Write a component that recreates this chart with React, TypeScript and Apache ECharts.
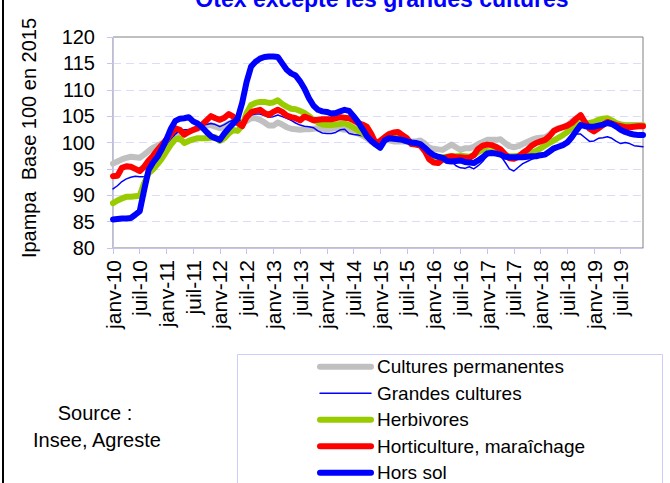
import React, { useEffect, useRef } from "react";
import * as echarts from "echarts";

const FONT = "'Liberation Sans', Arial, sans-serif";

const MONTHS = ["janv", "févr", "mars", "avr", "mai", "juin", "juil", "août", "sept", "oct", "nov", "déc"];
const YEARS = ["10", "11", "12", "13", "14", "15", "16", "17", "18", "19"];
const CATEGORIES: string[] = YEARS.flatMap((y) => MONTHS.map((m) => `${m}-${y}`));

const TITLE = "Otex excepté les grandes cultures";
const Y_TITLE = "Ipampa  Base 100 en 2015";
const SOURCE = ["Source :", "Insee, Agreste"];

const NAMES = [
  "Cultures permanentes",
  "Grandes cultures",
  "Herbivores",
  "Horticulture, maraîchage",
  "Hors sol",
];
const COLORS = ["#c0c0c0", "#0000ff", "#99cc00", "#ff0000", "#0000ff"];
const WIDTHS = [6, 1.5, 6, 6, 6];

const CULTURES_PERMANENTES = [
  96.0, 96.4, 96.8, 97.1, 97.3, 97.2, 97.1, 97.7, 98.4, 99.0, 99.4, 99.8,
  100.0, 100.7, 101.5, 102.0, 102.0, 102.1, 102.4, 102.6, 102.9, 103.2, 103.3, 103.0,
  102.7, 103.1, 103.6, 103.9, 103.6, 103.6, 104.1, 104.6, 104.6, 104.3, 103.8, 103.2,
  103.2, 103.8, 103.4, 102.9, 102.6, 102.5, 102.4, 102.5, 102.5, 102.6, 102.7, 102.6,
  102.5, 102.6, 102.7, 102.6, 102.4, 102.4, 102.1, 101.7, 101.3, 100.8, 100.2, 99.6,
  99.9, 100.5, 100.4, 100.2, 100.2, 100.2, 100.2, 100.2, 100.2, 100.4, 99.8, 99.0,
  98.8, 98.7, 98.6, 99.1, 99.6, 99.1, 98.6, 98.9, 98.9, 99.2, 99.7, 100.1,
  100.5, 100.5, 100.5, 100.6, 99.9, 99.3, 99.1, 99.3, 99.7, 100.1, 100.5, 100.8,
  100.9, 101.0, 101.5, 102.3, 102.7, 102.9, 103.2, 104.0, 104.6, 105.0, 103.5, 103.3,
  103.5, 103.9, 104.2, 104.0, 103.7, 103.5, 103.4, 103.3, 103.3, 103.3, 103.3, 103.3,
];

const GRANDES_CULTURES = [
  91.2, 91.8, 92.6, 93.1, 93.4, 93.6, 93.5, 93.5, 94.5, 95.5, 96.6, 97.9,
  99.2, 100.5, 101.6, 102.3, 102.4, 102.4, 102.7, 103.1, 103.4, 103.4, 103.6, 103.4,
  103.0, 103.4, 103.9, 104.3, 104.2, 104.2, 104.7, 105.2, 105.4, 105.4, 105.1, 104.8,
  104.9, 105.2, 104.9, 104.6, 104.2, 103.7, 103.3, 103.1, 103.0, 102.8, 102.2, 101.8,
  101.7, 101.7, 101.9, 102.4, 102.5, 101.7, 101.5, 101.4, 101.3, 100.8, 100.0, 99.3,
  99.8, 100.5, 100.7, 100.7, 100.6, 100.5, 100.4, 100.2, 99.9, 99.6, 99.0, 98.0,
  97.3, 96.9, 96.7, 96.5, 96.4, 95.6, 95.2, 95.1, 95.4, 95.0, 95.6, 96.4,
  97.5, 97.7, 97.7, 97.5, 96.3, 95.0, 94.6, 95.3, 96.0, 96.4, 96.8, 97.1,
  97.5, 97.8, 98.0, 98.7, 99.3, 99.9, 100.5, 101.1, 101.6, 101.6, 100.9, 100.2,
  100.3, 100.8, 100.9, 101.1, 100.8, 100.2, 99.8, 100.0, 99.8, 99.4, 99.3, 99.2,
];

const HERBIVORES = [
  88.5, 89.0, 89.4, 89.7, 89.7, 89.8, 89.9, 92.3, 94.2, 94.9, 95.9, 97.0,
  98.3, 99.6, 100.6, 100.8, 99.9, 100.3, 100.6, 100.8, 100.8, 100.8, 100.9, 101.0,
  100.3, 100.8, 101.7, 102.4, 102.2, 103.2, 105.6, 107.1, 107.5, 107.7, 107.7, 107.5,
  107.6, 108.0, 107.3, 106.8, 106.4, 106.3, 106.0, 105.6, 105.0, 104.3, 103.8, 103.4,
  103.3, 103.3, 103.4, 103.5, 103.6, 103.3, 102.8, 102.3, 101.8, 101.2, 100.6, 99.9,
  100.0, 100.6, 100.8, 100.9, 100.9, 100.6, 100.3, 99.9, 99.7, 99.4, 98.7, 97.9,
  97.4, 97.2, 97.2, 97.3, 97.4, 97.4, 97.5, 97.4, 97.3, 97.6, 98.2, 98.6,
  98.4, 98.3, 98.2, 97.9, 97.6, 97.4, 97.4, 97.5, 97.7, 97.9, 98.1, 98.4,
  98.9, 99.4, 99.9, 100.4, 100.9, 101.4, 102.0, 102.7, 103.4, 103.7, 103.6, 103.7,
  103.9, 104.3, 104.5, 104.6, 104.2, 103.7, 103.4, 103.2, 103.2, 103.2, 103.2, 103.2,
];

const HORTICULTURE = [
  93.6, 93.7, 95.2, 95.5, 95.4, 95.0, 94.6, 95.4, 96.6, 97.5, 98.6, 99.6,
  100.6, 101.6, 102.7, 102.4, 101.5, 102.0, 102.4, 102.7, 103.4, 104.2, 105.0, 104.6,
  104.3, 104.7, 105.4, 104.9, 103.7, 103.1, 104.8, 105.7, 106.0, 106.2, 105.6, 105.2,
  105.8, 106.2, 105.8, 105.1, 104.8, 104.6, 104.2, 104.9, 104.6, 104.2, 104.3, 104.4,
  104.4, 104.4, 104.6, 104.8, 104.7, 104.6, 104.2, 103.7, 103.4, 103.0, 101.6, 99.8,
  100.3, 101.0, 101.6, 101.9, 102.0, 101.4, 100.8, 99.7, 99.6, 99.4, 98.4, 96.8,
  96.2, 96.1, 96.8, 97.2, 97.4, 97.2, 97.2, 97.1, 97.1, 97.6, 98.8, 99.4,
  99.6, 99.5, 99.2, 98.7, 97.8, 97.0, 96.9, 97.3, 98.0, 98.6, 99.4, 99.9,
  100.2, 100.5, 101.2, 102.2, 102.6, 102.9, 103.2, 103.7, 104.5, 105.2, 103.8, 102.6,
  102.1, 102.7, 103.3, 103.9, 103.6, 103.3, 103.1, 102.9, 102.9, 103.0, 103.1, 103.1,
];

const HORS_SOL = [
  85.4, 85.5, 85.6, 85.6, 85.7, 86.3, 87.0, 91.0, 94.8, 96.2, 97.3, 98.8,
  100.6, 102.6, 104.1, 104.5, 104.6, 104.8, 104.0, 103.6, 102.9, 102.0, 101.2, 100.8,
  100.5, 101.7, 102.7, 103.6, 104.6, 107.5, 111.5, 114.4, 115.3, 115.9, 116.2, 116.3,
  116.3, 116.2, 115.0, 113.8, 113.1, 112.7, 111.6, 110.2, 108.4, 107.0, 106.2, 105.9,
  105.8, 105.5, 105.6, 105.9, 106.2, 106.0, 105.0, 103.9, 102.6, 101.2, 100.3, 99.6,
  99.0, 100.4, 100.8, 100.7, 100.6, 100.5, 100.2, 100.0, 99.9, 99.7, 99.0, 98.2,
  97.6, 97.3, 97.1, 96.5, 96.4, 96.5, 96.6, 96.3, 96.2, 96.1, 96.6, 97.2,
  97.9, 98.0, 97.9, 97.7, 97.3, 97.2, 97.2, 97.2, 97.2, 97.3, 97.4, 97.4,
  97.6, 97.7, 98.3, 98.9, 99.2, 99.5, 100.0, 101.0, 102.2, 103.3, 103.1, 103.0,
  103.0, 103.2, 103.4, 103.7, 103.5, 103.0, 102.4, 102.0, 101.7, 101.5, 101.4, 101.4,
];

const SERIES_DATA = [CULTURES_PERMANENTES, GRANDES_CULTURES, HERBIVORES, HORTICULTURE, HORS_SOL];

const AXIS_COLOR = "#c4c4ee";
const GRID_COLOR = "#dcdcfa";

export default function App() {
  const ref = useRef<HTMLDivElement>(null);

  useEffect(() => {
    if (!ref.current) return;
    const chart = echarts.init(ref.current, undefined, { renderer: "svg" });

    const legendItems: any[] = [];
    const legendY0 = 366.7;
    const legendStep = 26.5;
    NAMES.forEach((name, i) => {
      const y = legendY0 + i * legendStep;
      legendItems.push({
        type: "line",
        shape: { x1: 320, y1: y, x2: 371, y2: y },
        style: { stroke: COLORS[i], lineWidth: WIDTHS[i], lineCap: "round" },
      });
      legendItems.push({
        type: "text",
        x: 377,
        y: y,
        style: {
          text: name,
          fill: "#000",
          fontSize: 19,
          fontFamily: FONT,
          align: "left",
          verticalAlign: "middle",
        },
      });
    });

    const option: any = {
      animation: false,
      textStyle: { fontFamily: FONT },
      grid: {
        left: 113,
        top: 37,
        width: 530,
        height: 211,
        show: true,
        borderColor: "#808080",
        borderWidth: 1,
        backgroundColor: "transparent",
        containLabel: false,
      },
      xAxis: {
        type: "category",
        data: CATEGORIES,
        boundaryGap: false,
        axisLine: { show: true, lineStyle: { color: AXIS_COLOR, width: 1 } },
        axisTick: { show: true, interval: 5, length: 6, lineStyle: { color: AXIS_COLOR } },
        axisLabel: {
          interval: 5,
          rotate: 90,
          fontSize: 21,
          color: "#000",
          margin: 12,
          fontFamily: FONT,
        },
        splitLine: { show: false },
      },
      yAxis: {
        type: "value",
        min: 80,
        max: 120,
        interval: 5,
        axisLine: { show: true, lineStyle: { color: AXIS_COLOR, width: 1 } },
        axisTick: { show: true, length: 6, lineStyle: { color: AXIS_COLOR } },
        axisLabel: { fontSize: 20, color: "#000", margin: 18, fontFamily: FONT },
        splitLine: {
          show: true,
          showMinLine: false,
          showMaxLine: false,
          lineStyle: { type: [8, 5], color: GRID_COLOR, width: 1 },
        },
      },
      series: NAMES.map((name, i) => ({
        name,
        type: "line",
        data: SERIES_DATA[i],
        symbol: "none",
        showSymbol: false,
        smooth: false,
        lineStyle: { color: COLORS[i], width: WIDTHS[i], join: "round", cap: "round" },
        itemStyle: { color: COLORS[i] },
        z: 2 + i,
      })),
      graphic: [
        {
          type: "rect",
          shape: { x: 2, y: 0, width: 2, height: 483 },
          style: { fill: "#000" },
        },
        {
          type: "text",
          x: 382,
          y: -1,
          style: {
            text: TITLE,
            fill: "#0000ff",
            fontSize: 23,
            fontWeight: "bold",
            fontFamily: FONT,
            align: "center",
            verticalAlign: "middle",
          },
        },
        {
          type: "text",
          x: 29,
          y: 138,
          rotation: Math.PI / 2,
          style: {
            text: Y_TITLE,
            fill: "#000",
            fontSize: 20,
            fontFamily: FONT,
            align: "center",
            verticalAlign: "middle",
          },
        },
        {
          type: "text",
          x: 95,
          y: 413,
          style: {
            text: SOURCE[0],
            fill: "#000",
            fontSize: 20,
            fontFamily: FONT,
            align: "center",
            verticalAlign: "middle",
          },
        },
        {
          type: "text",
          x: 97,
          y: 440,
          style: {
            text: SOURCE[1],
            fill: "#000",
            fontSize: 20,
            fontFamily: FONT,
            align: "center",
            verticalAlign: "middle",
          },
        },
        {
          type: "rect",
          shape: { x: 237.5, y: 354.5, width: 425, height: 160 },
          style: { fill: "#fff", stroke: "#ccccff", lineWidth: 1 },
        },
        ...legendItems,
      ],
    };

    chart.setOption(option);
    return () => chart.dispose();
  }, []);

  return (
    <div
      ref={ref}
      style={{ position: "fixed", left: 0, top: 0, width: 670, height: 483, background: "#fff" }}
    />
  );
}
